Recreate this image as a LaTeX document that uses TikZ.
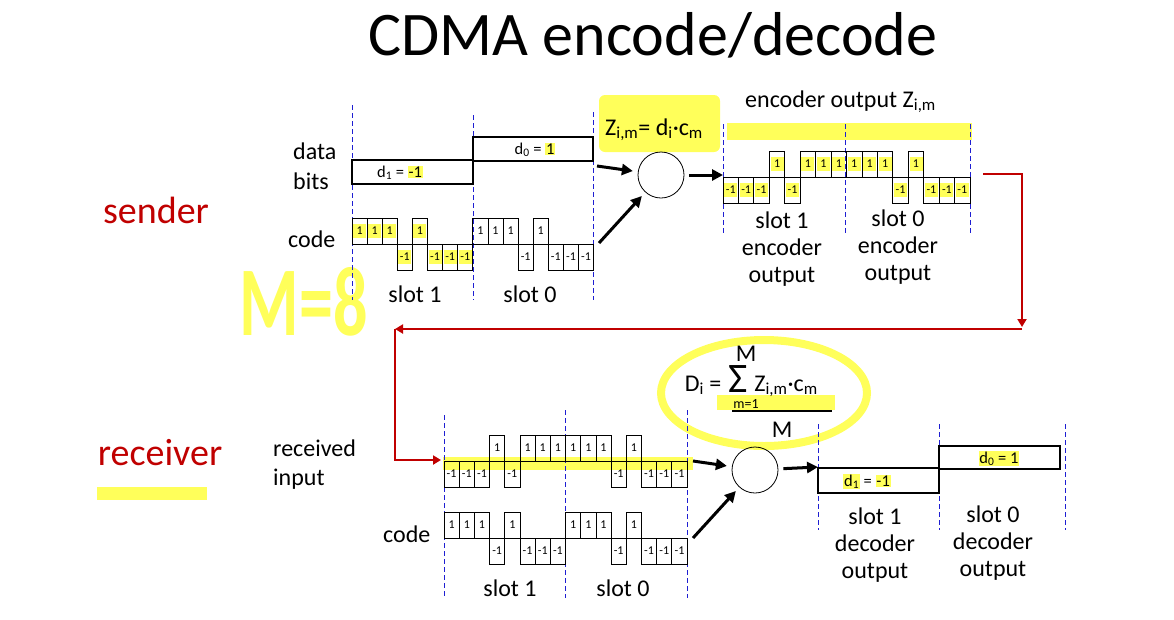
\documentclass[tikz,border=0pt]{standalone}
\usepackage{fontspec}
\setmainfont{Carlito}
\usetikzlibrary{arrows.meta}

\definecolor{cdred}{RGB}{192,0,0}
\definecolor{slotblue}{RGB}{30,30,210}
\definecolor{hlyellow}{RGB}{255,255,90}

% highlighted piece of text
\newcommand\hlt[1]{{\fboxsep=0.8pt\colorbox{hlyellow}{#1}}}

% one row of chips: x0, baseline, chip width, highlight flag, values, name prefix
\newcommand\chiprow[6]{%
    \foreach \v [count=\i from 0] in {#5}{%
        \ifnum#4=1
            \fill[hlfill] ({#1+(\i+0.5)*#3-6.5},{#2+(\v)*(-13)-7}) rectangle ++(13,14);
        \fi
        \draw[chipline] ({#1+\i*#3},#2) rectangle ++(#3,{(\v)*(-26)});
        \node[chipnum] (#6-\i) at ({#1+(\i+0.5)*#3},{#2+(\v)*(-13)}) {\v};
    }}

\begin{document}
\begin{tikzpicture}[
    x=1pt, y=-1pt,
    lbl/.style={font=\fontsize{24}{27}\selectfont, inner sep=0pt, align=center},
    side/.style={font=\fontsize{38}{38}\selectfont, inner sep=0pt, text=cdred},
    small/.style={font=\fontsize{16.5}{17}\selectfont, inner sep=0pt},
    chipnum/.style={font=\fontsize{12}{12}\selectfont, inner sep=0pt},
    chipline/.style={line width=0.8pt},
    bitline/.style={line width=2.2pt},
    slotline/.style={draw=slotblue, line width=0.8pt, dash pattern=on 5pt off 3pt},
    arr/.style={-{Triangle[length=11pt,width=11pt]}, line width=3pt, shorten >=5pt},
    redarr/.style={-{Triangle[length=8pt,width=9pt]}, draw=cdred, line width=2.2pt},
    hlfill/.style={fill=hlyellow},
    mixer/.style={draw, circle, minimum size=46pt, inner sep=0pt, line width=0.8pt}
]
    \useasboundingbox (0,0) rectangle (1174,619);

    % Title
    \node[font=\fontsize{62}{62}\selectfont, anchor=base] (title) at (653,55) {CDMA encode/decode};

    % Yellow marks
    \fill[hlyellow, rounded corners=6pt] (599,95) rectangle (720,152);
    \fill[hlyellow] (727,123) rectangle (972,140);
    \fill[hlyellow] (443,457) rectangle (693,470);
    \fill[hlyellow] (717,395) rectangle (835,410);
    \fill[hlyellow] (97,487) rectangle (207,500);
    \draw[hlyellow, line width=8pt] (764,393) ellipse [x radius=103pt, y radius=53pt];
    \node[text=hlyellow, inner sep=0pt] (mnote) at (304,302) {\resizebox{128pt}{68pt}{\bfseries M=8}};

    % Slot borders
    \foreach \x/\ya in {352/105, 473/115, 593/112}
        \draw[slotline] (\x,\ya) -- (\x,300);
    \foreach \x in {723, 845, 970}
        \draw[slotline] (\x,124) -- (\x,235);
    \foreach \x/\ya in {444/415, 565/410, 687/410}
        \draw[slotline] (\x,\ya) -- (\x,598);
    \foreach \x in {818, 939, 1065}
        \draw[slotline] (\x,424) -- (\x,530);

    % Sender
    \node[side, anchor=base] (sender) at (156,223) {sender};
    \node[lbl, anchor=base west, align=left] (datalbl) at (293,189) {data\\[3pt]bits};
    \node[lbl, anchor=base west] (scodelbl) at (288,247) {code};

    \draw[bitline] (352,160) rectangle (473,184);
    \draw[bitline] (473,137) rectangle (593,161);
    \node[small, anchor=base] (d1top) at (400,177) {d\textsubscript{1} = \hlt{-1}};
    \node[small, anchor=base] (d0top) at (535,154) {d\textsubscript{0} = \hlt{1}};

    \chiprow{352}{244}{15.1}{1}{1,1,1,-1,1,-1,-1,-1}{sa}
    \chiprow{472.8}{244}{15.1}{0}{1,1,1,-1,1,-1,-1,-1}{sb}

    \node[lbl, anchor=base] (sslot1) at (415,302) {slot 1};
    \node[lbl, anchor=base] (sslot0) at (530,302) {slot 0};

    % Encoder
    \node[lbl, anchor=base west] (zform) at (605,135)
        {Z\textsubscript{i,m}= d\textsubscript{i}·c\textsubscript{m}};
    \node[mixer] (enc) at (661,175) {};
    \coordinate (dataout) at (597,166);
    \coordinate (codeout) at (599,243);
    \coordinate (encout) at (723,175);
    \draw[arr] (dataout) -- (enc);
    \draw[arr] (codeout) -- (enc);
    \draw[arr, shorten <=5pt, shorten >=0pt] (enc) -- (encout);

    \node[lbl, anchor=base west] (enclbl) at (745,107) {encoder output Z\textsubscript{i,m}};
    \chiprow{723}{177}{15.44}{1}{-1,-1,-1,1,-1,1,1,1,1,1,1,-1,1,-1,-1,-1}{eo}
    \node[lbl, anchor=base] (eslot1) at (782,282) {slot 1\\encoder\\output};
    \node[lbl, anchor=base] (eslot0) at (898,280) {slot 0\\encoder\\output};

    % Channel
    \coordinate (rstart) at (983,174);
    \coordinate (rturn) at (1022,327);
    \coordinate (rback) at (1022,329);
    \coordinate (rleft) at (395,329);
    \coordinate (recvin) at (441,460);
    \draw[redarr] (rstart) -| (rturn);
    \draw[redarr] (rback) -- (rleft);
    \draw[redarr] (rleft) |- (recvin);

    % Receiver
    \node[side, anchor=base] (receiver) at (160,465) {receiver};
    \node[lbl, anchor=base west, align=left] (recvlbl) at (273,485) {received\\[2pt]input};
    \node[lbl, anchor=base west] (rcodelbl) at (383,542) {code};

    \chiprow{444}{461}{15.19}{0}{-1,-1,-1,1,-1,1,1,1,1,1,1,-1,1,-1,-1,-1}{ri}
    \chiprow{444}{538}{15.19}{0}{1,1,1,-1,1,-1,-1,-1,1,1,1,-1,1,-1,-1,-1}{rc}

    \node[lbl, anchor=base] (rslot1) at (510,596) {slot 1};
    \node[lbl, anchor=base] (rslot0) at (623,596) {slot 0};

    % Decoder
    \node[lbl, anchor=base] (dlhs) at (703,391) {D\textsubscript{i} =};
    \node[font=\fontsize{42}{42}\selectfont, inner sep=0pt, anchor=base] (sigma) at (738,392) {Σ};
    \node[lbl, anchor=base] (mtop) at (746,361) {M};
    \node[font=\fontsize{14}{14}\selectfont, inner sep=0pt] (mlow) at (746,404) {m=1};
    \node[lbl, anchor=base] (zsum) at (786,391) {Z\textsubscript{i,m}·c\textsubscript{m}};
    \draw[line width=1.2pt] (732,411) -- (832,411);
    \node[lbl] (mden) at (782,430) {M};

    \node[mixer] (dec) at (755,470) {};
    \coordinate (recvout) at (693,461);
    \coordinate (dcodeout) at (693,538);
    \coordinate (decout) at (818,467);
    \draw[arr] (recvout) -- (dec);
    \draw[arr] (dcodeout) -- (dec);
    \draw[arr, shorten <=5pt, shorten >=0pt] (dec) -- (decout);

    \draw[bitline] (818,468) rectangle (939,493);
    \draw[bitline] (939,446) rectangle (1060,469);
    \node[small, anchor=base] (d1bot) at (867,486) {\hlt{d\textsubscript{1}} = \hlt{-1}};
    \node[small, anchor=base] (d0bot) at (999,463) {\hlt{d\textsubscript{0} = 1}};

    \node[lbl, anchor=base] (dslot1) at (875,578) {slot 1\\decoder\\output};
    \node[lbl, anchor=base] (dslot0) at (993,576) {slot 0\\decoder\\output};

\end{tikzpicture}
\end{document}
